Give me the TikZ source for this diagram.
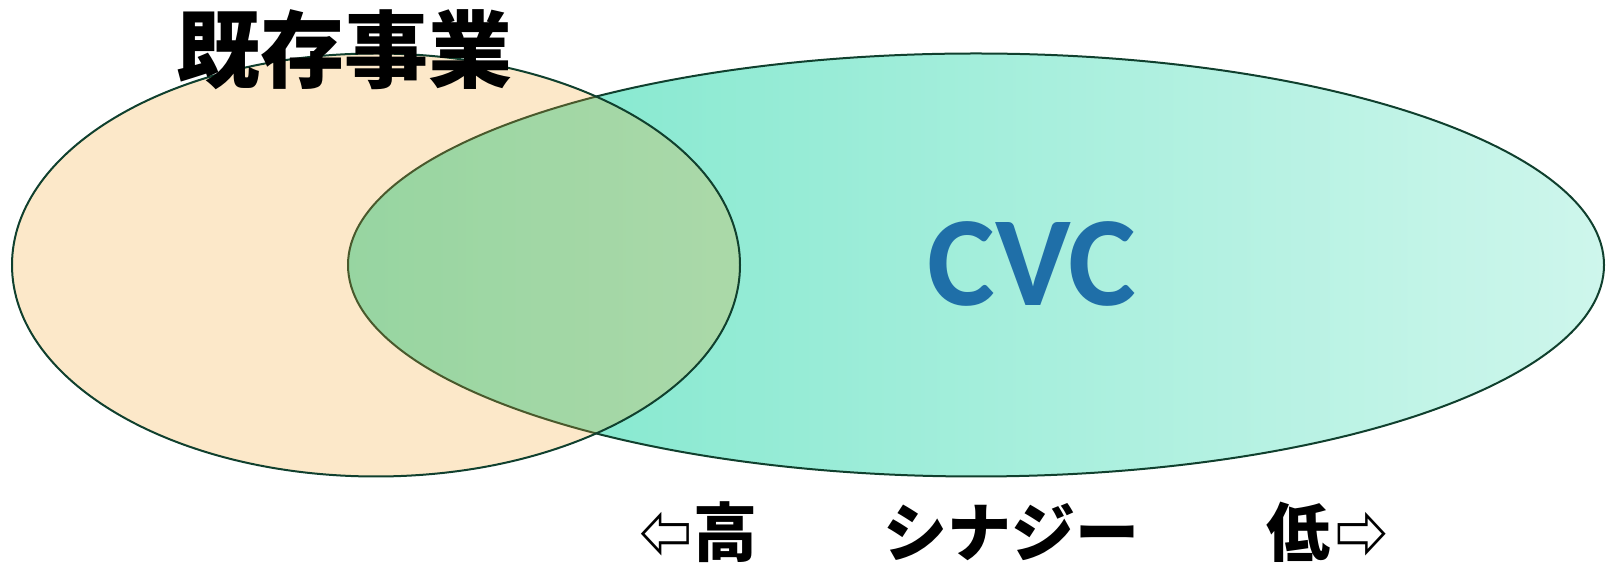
\documentclass[tikz,border=0pt]{standalone}
\usepackage{fontspec}
\newfontfamily\jpfont{Noto Sans CJK JP}
\newfontfamily\cvcfont{Carlito}
\definecolor{edgegreen}{RGB}{16,64,46}
\definecolor{gleft}{RGB}{120,230,202}
\definecolor{gright}{RGB}{206,246,236}
\definecolor{pat}{RGB}{245,165,40}
\definecolor{cvcblue}{RGB}{31,111,168}
\tikzset{
  venn/.style={draw=edgegreen, line width=1pt},
  jptitle/.style={font=\jpfont\bfseries\fontsize{42pt}{42pt}\selectfont, inner sep=0pt},
  jplabel/.style={font=\jpfont\bfseries\fontsize{32pt}{32pt}\selectfont, inner sep=0pt, text depth=0pt},
  arrowlabel/.style={font=\jpfont\bfseries\fontsize{32pt}{32pt}\selectfont, inner sep=0pt, text depth=0pt, xscale=0.82, transform shape},
  cvclabel/.style={font=\cvcfont\bfseries\fontsize{64pt}{64pt}\selectfont, text=cvcblue, inner sep=0pt}
}
\begin{document}
\begin{tikzpicture}[x=0.5pt, y=-0.5pt]
\useasboundingbox (0,0) rectangle (1606,565);
% CVC ellipse
\path[venn, left color=gleft, right color=gright] (976,265) ellipse [x radius=314pt, y radius=105.75pt];
% existing business ellipse
\path[venn, fill=pat, fill opacity=0.25] (376,265) ellipse [x radius=182pt, y radius=105.75pt];
\node[jptitle, anchor=base] (title) at (344,82) {既存事業};
\node[cvclabel, anchor=base] (cvc) at (1032,306) {CVC};
\node[arrowlabel, anchor=base] (larrow) at (666,559) {⇦};
\node[jplabel, anchor=base] (high) at (725,557) {高};
\node[jplabel, anchor=base] (syn) at (1011,557) {シナジー};
\node[jplabel, anchor=base] (low) at (1298,557) {低};
\node[arrowlabel, anchor=base] (rarrow) at (1362,559) {⇨};
\end{tikzpicture}
\end{document}
